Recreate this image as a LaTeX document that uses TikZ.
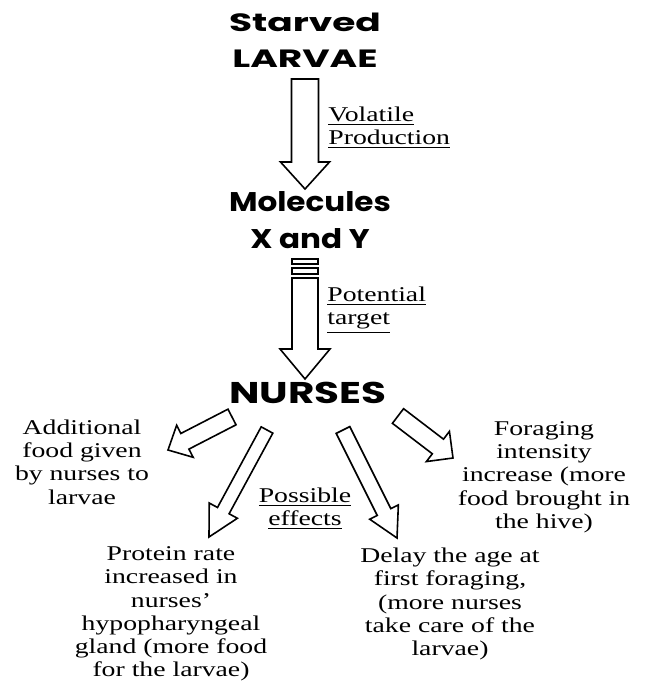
\documentclass[tikz,border=0pt]{standalone}
\usepackage{fontspec}
\setmainfont{Liberation Serif}[FakeStretch=1.32]
\newfontfamily\headfont{Poppins}
\usepackage{tikz}
\usetikzlibrary{
    positioning,      % For placing nodes relative to each other
    calc              % For the corner points of the block arrows
}

% Hollow block arrow: #1 tail, #2 tip, #3 shaft half width, #4 head half width, #5 head length
\newcommand{\blockarrow}[5]{%
    \coordinate (head_base) at ($(#2)!#5!(#1)$);
    \draw[arrow_outline]
        ($(#1)!#3!90:(#2)$) -- ($(head_base)!#3!90:(#2)$) -- ($(head_base)!#4!90:(#2)$)
        -- (#2)
        -- ($(head_base)!#4!-90:(#2)$) -- ($(head_base)!#3!-90:(#2)$) -- ($(#1)!#3!-90:(#2)$)
        -- cycle;
}

\begin{document}
\begin{tikzpicture}[
    % one unit is one pixel of the reference, y runs downwards
    x=0.5pt, y=-0.5pt,
    % Style for the headings (larvae, molecules, nurses)
    head_style/.style={
        font=\headfont\bfseries\addfontfeatures{FakeStretch=1.5}\fontsize{12.5}{18}\selectfont,
        align=center,
        inner sep=0pt
    },
    % Style for the plain text blocks
    text_style/.style={
        font=\fontsize{10.5}{11.65}\selectfont,
        align=center,
        inner sep=0pt
    },
    % Style for the outline of the block arrows
    arrow_outline/.style={
        draw=black,
        line width=0.8pt,
        line join=miter
    }
]
    \useasboundingbox (0,0) rectangle (646,684);

    % 1. The three headings down the middle.
    \node[head_style] (larvae) at (305,40) {Starved\\LARVAE};
    \node[head_style, font=\headfont\bfseries\addfontfeatures{FakeStretch=1.15}\fontsize{13.5}{18.5}\selectfont] (molecules) at (310,220) {Molecules\\X and Y};
    \node[head_style, font=\headfont\bfseries\addfontfeatures{FakeStretch=1.35}\fontsize{15}{18}\selectfont] (nurses) at (308,393) {NURSES};

    % 2. The underlined labels beside the arrows.
    \node[text_style, align=left, anchor=west] (volatile) at (328,128) {\underline{Volatile}\\\underline{Production}};
    \node[text_style, align=left, anchor=west] (target) at (327,310) {\underline{Potential}\\\underline{target}};
    \node[text_style] (effects) at (305,509) {\underline{Possible}\\\underline{effects}};

    % 3. The four effects round the nurses.
    \node[text_style] (extra_food) at (82,462) {Additional\\food given\\by nurses to\\larvae};
    \node[text_style] (foraging) at (544,477) {Foraging\\intensity\\increase (more\\food brought in\\the hive)};
    \node[text_style] (protein) at (171,614) {Protein rate\\increased in\\nurses'\\hypopharyngeal\\gland (more food\\for the larvae)};
    \node[text_style] (delay) at (450,604) {Delay the age at\\first foraging,\\(more nurses\\take care of the\\larvae)};

    % 4. End points of the block arrows.
    \coordinate (larvae_out) at (305,79);
    \coordinate (molecules_in) at (305,189);
    \coordinate (molecules_out) at (305,278);
    \coordinate (nurses_in) at (305,379);
    \coordinate (extra_food_out) at (232,417);
    \coordinate (extra_food_in) at (168,450);
    \coordinate (protein_out) at (267,430);
    \coordinate (protein_in) at (209,537);
    \coordinate (delay_out) at (343,430);
    \coordinate (delay_in) at (397,538);
    \coordinate (foraging_out) at (398,416);
    \coordinate (foraging_in) at (453,458);

    % 5. Draw the block arrows.
    \blockarrow{larvae_out}{molecules_in}{6.75pt}{12.25pt}{13.5pt}
    \draw[arrow_outline] (292,259) rectangle (318,264);
    \draw[arrow_outline] (292,268) rectangle (318,274);
    \blockarrow{molecules_out}{nurses_in}{6.5pt}{12.5pt}{15pt}
    \blockarrow{extra_food_out}{extra_food_in}{4.4pt}{9pt}{9.5pt}
    \blockarrow{protein_out}{protein_in}{3.3pt}{8pt}{15pt}
    \blockarrow{delay_out}{delay_in}{3.8pt}{8pt}{14.5pt}
    \blockarrow{foraging_out}{foraging_in}{4.6pt}{9.5pt}{9.5pt}

\end{tikzpicture}
\end{document}
